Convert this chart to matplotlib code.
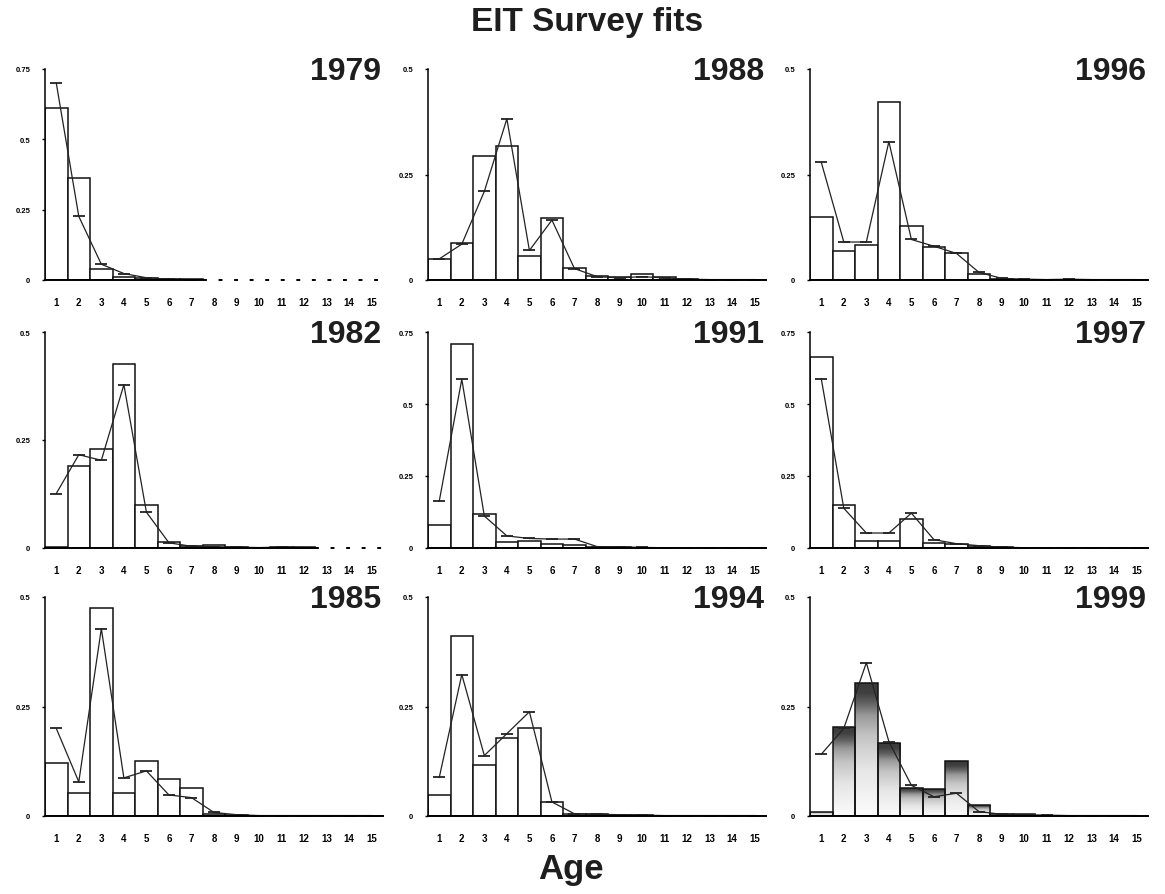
import numpy as np
import matplotlib.pyplot as plt
from matplotlib.colors import LinearSegmentedColormap

plt.rcParams['font.family'] = ['Liberation Sans', 'DejaVu Sans']

nan = np.nan
ages = np.arange(1, 16)

# observed proportions at age (bars) and model fit (line) per survey year
obs_1979 = [0.61, 0.363, 0.039, 0.010, 0.006, 0.003, 0.002, nan, nan, nan, nan, nan, nan, nan, nan]
fit_1979 = [0.70, 0.226, 0.056, 0.023, 0.008, 0.003, 0.001, nan, nan, nan, nan, nan, nan, nan, nan]

obs_1988 = [0.050, 0.087, 0.293, 0.318, 0.057, 0.146, 0.029, 0.009, 0.006, 0.014, 0.008, 0.002, 0.0, 0.0, 0.0]
fit_1988 = [0.050, 0.085, 0.210, 0.382, 0.070, 0.142, 0.027, 0.008, 0.005, 0.008, 0.005, 0.002, 0.001, 0.001, 0.001]

obs_1996 = [0.150, 0.069, 0.082, 0.422, 0.127, 0.078, 0.065, 0.014, 0.002, 0.0, 0.0, 0.0, 0.0, 0.0, 0.0]
fit_1996 = [0.279, 0.090, 0.090, 0.328, 0.096, 0.080, 0.063, 0.018, 0.004, 0.002, 0.001, 0.002, 0.001, 0.001, 0.001]

obs_1982 = [0.003, 0.189, 0.230, 0.426, 0.100, 0.013, 0.004, 0.008, 0.002, 0.001, 0.003, 0.002, nan, nan, nan]
fit_1982 = [0.126, 0.216, 0.203, 0.378, 0.083, 0.012, 0.004, 0.003, 0.002, 0.001, 0.002, 0.001, nan, nan, nan]

obs_1991 = [0.079, 0.707, 0.117, 0.020, 0.023, 0.014, 0.010, 0.003, 0.003, 0.001, 0.0, 0.0, 0.0, 0.0, 0.0]
fit_1991 = [0.163, 0.586, 0.111, 0.042, 0.033, 0.031, 0.031, 0.005, 0.004, 0.002, 0.001, 0.001, 0.001, 0.001, 0.001]

obs_1997 = [0.663, 0.150, 0.023, 0.025, 0.101, 0.017, 0.014, 0.008, 0.002, 0.0, 0.0, 0.0, 0.0, 0.0, 0.0]
fit_1997 = [0.588, 0.138, 0.052, 0.052, 0.121, 0.029, 0.015, 0.008, 0.003, 0.001, 0.001, 0.001, 0.001, 0.001, 0.001]

obs_1985 = [0.122, 0.053, 0.476, 0.052, 0.125, 0.084, 0.063, 0.005, 0.002, 0.0, 0.0, 0.0, 0.0, 0.0, 0.0]
fit_1985 = [0.200, 0.078, 0.428, 0.087, 0.103, 0.048, 0.042, 0.008, 0.003, 0.001, 0.001, 0.001, 0.001, 0.001, 0.001]

obs_1994 = [0.048, 0.410, 0.117, 0.177, 0.200, 0.031, 0.005, 0.004, 0.003, 0.002, 0.0, 0.0, 0.0, 0.0, 0.0]
fit_1994 = [0.088, 0.323, 0.138, 0.188, 0.238, 0.032, 0.005, 0.004, 0.003, 0.002, 0.001, 0.001, 0.001, 0.001, 0.001]

obs_1999 = [0.010, 0.204, 0.304, 0.167, 0.065, 0.062, 0.125, 0.025, 0.005, 0.005, 0.0, 0.0, 0.0, 0.0, 0.0]
fit_1999 = [0.141, 0.200, 0.350, 0.170, 0.070, 0.044, 0.052, 0.010, 0.004, 0.003, 0.002, 0.001, 0.001, 0.001, 0.001]

panels = [
    (1979, obs_1979, fit_1979, 0.75), (1988, obs_1988, fit_1988, 0.5), (1996, obs_1996, fit_1996, 0.5),
    (1982, obs_1982, fit_1982, 0.5), (1991, obs_1991, fit_1991, 0.75), (1997, obs_1997, fit_1997, 0.75),
    (1985, obs_1985, fit_1985, 0.5), (1994, obs_1994, fit_1994, 0.5), (1999, obs_1999, fit_1999, 0.5),
]
shaded_year = 1999

ytick_text = {0: '0', 0.25: '0.25', 0.5: '0.5', 0.75: '0.75'}

W, H = 1165, 895
fig = plt.figure(figsize=(W / 100, H / 100), dpi=100)

# panel grid in pixels
col_left = [45, 428, 810]
col_width = 338
row_top = [70, 333, 598]
row_bottom = [281, 549, 817]

# light stipple fading up into a dark band at the top of each bar
stipple = LinearSegmentedColormap.from_list(
    'stipple', [(0.0, '#fcfcfc'), (0.35, '#e6e6e6'), (0.6, '#c4c4c4'), (0.75, '#9a9a9a'),
                (0.85, '#5e5e5e'), (0.92, '#404040'), (1.0, '#3a3a3a')])
grad = np.linspace(0, 1, 256).reshape(-1, 1)

for i, (year, obs, fit, ymax) in enumerate(panels):
    r, c = divmod(i, 3)
    ax = fig.add_axes([col_left[c] / W, 1 - row_bottom[r] / H,
                       col_width / W, (row_bottom[r] - row_top[r]) / H])
    obs = np.array(obs, dtype=float)
    fit = np.array(fit, dtype=float)
    ok = ~np.isnan(obs)

    shaded = year == shaded_year
    bars = ax.bar(ages[ok], obs[ok], width=1.0,
                  facecolor='none' if shaded else 'white',
                  edgecolor='#111111', linewidth=1.1, zorder=2)
    if shaded:
        for b in bars:
            x0, y0 = b.get_xy()
            if b.get_height() <= 0:
                continue
            im = ax.imshow(grad, extent=(x0, x0 + b.get_width(), y0, y0 + b.get_height()),
                           origin='lower', cmap=stipple, aspect='auto', zorder=1)
            im.set_clip_path(b)

    ax.plot(ages, fit, color='#222222', linewidth=0.9, marker='_',
            markersize=9, markeredgewidth=1.3, zorder=3)

    # baseline: solid where there is data, dashed beyond
    last = ages[ok].max()
    ax.plot([0.5, last + 0.5], [0, 0], color='black', linewidth=1.4, zorder=4, clip_on=False)
    if last < ages.max():
        ax.plot([last + 0.5, ages.max() + 0.5], [0, 0], color='black', linewidth=1.4,
                linestyle=(0, (2, 6)), zorder=4, clip_on=False)

    ax.set_xlim(0.5, 15.5)
    ax.set_ylim(0, ymax)
    ax.set_aspect('auto')
    for s in ['top', 'right', 'bottom']:
        ax.spines[s].set_visible(False)
    ax.spines['left'].set_linewidth(1.1)

    ax.set_xticks(ages)
    ax.set_xticklabels([str(a) for a in ages], fontsize=7, fontweight='bold')
    yt = [v for v in ytick_text if v <= ymax]
    ax.set_yticks(yt)
    ax.set_yticklabels([ytick_text[v] for v in yt], fontsize=5.5, fontweight='bold')
    ax.tick_params(axis='x', length=0, pad=12)
    ax.tick_params(axis='y', length=2.5, width=1, pad=8)

    ax.text(0.995, 1.06, str(year), transform=ax.transAxes, ha='right', va='top',
            fontsize=23, fontweight='bold', color='#1e1e1e')

fig.text(587 / W, 1 - 22 / H, 'EIT Survey fits', ha='center', va='center',
         fontsize=24, fontweight='bold', color='#1e1e1e')
fig.text(571 / W, 1 - 870 / H, 'Age', ha='center', va='center',
         fontsize=25, fontweight='bold', color='#1e1e1e')

fig.savefig('out.png', dpi=100, facecolor='white')
